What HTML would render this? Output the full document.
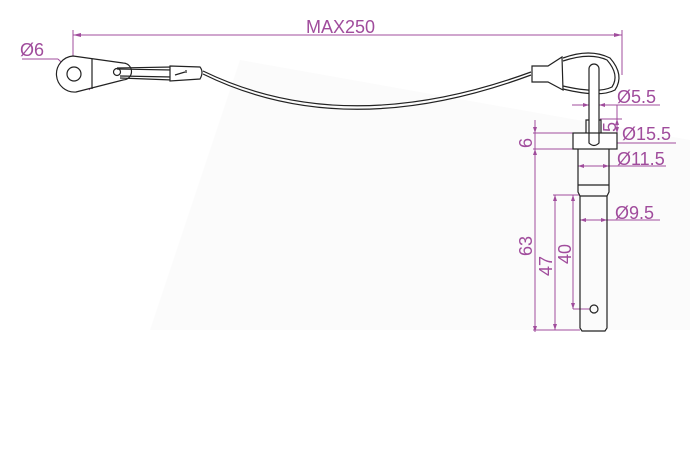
<!DOCTYPE html>
<html><head><style>
html,body{margin:0;padding:0;background:#fff;}
svg{display:block}
text{font-family:"Liberation Sans","DejaVu Sans",sans-serif;fill:#a04c9c;}
</style></head><body>
<svg width="700" height="462" viewBox="0 0 700 462" xmlns="http://www.w3.org/2000/svg">
<polygon points="150,330 240,60 690,140 690,330" fill="#fbfbfb"/>
<g stroke="#a04c9c" stroke-width="1" fill="none">
<line x1="73" y1="35" x2="622" y2="35"/>
<line x1="73" y1="30" x2="73" y2="78"/>
<line x1="622" y1="30" x2="622" y2="75"/>
<line x1="22" y1="59" x2="58" y2="59"/>
<line x1="58" y1="59" x2="90" y2="90"/>
<line x1="572" y1="105" x2="660" y2="105"/>
<line x1="589" y1="100" x2="589" y2="118"/>
<line x1="599" y1="100" x2="599" y2="118"/>
<line x1="600" y1="119" x2="622" y2="119"/>
<line x1="617" y1="105" x2="617" y2="133"/>
<line x1="573" y1="143" x2="676" y2="143"/>
<line x1="578" y1="166" x2="666" y2="166"/>
<line x1="533" y1="133" x2="573" y2="133"/>
<line x1="533" y1="149" x2="573" y2="149"/>
<line x1="535" y1="120" x2="535" y2="332"/>
<line x1="580" y1="220" x2="660" y2="220"/>
<line x1="553" y1="195" x2="580" y2="195"/>
<line x1="533" y1="330" x2="580" y2="330"/>
<line x1="573" y1="309" x2="590" y2="309"/>
<line x1="555" y1="195" x2="555" y2="330"/>
<line x1="573" y1="195" x2="573" y2="309"/>
</g>
<g fill="#a04c9c">
<path d="M73,35 l8,-2 v4z M622,35 l-8,-2 v4z"/>
<path d="M589,105 l-6,-2 v4z M599,105 l6,-2 v4z"/>
<path d="M617,119 l-2,6 h4z M617,133 l-2,-6 h4z"/>
<path d="M573,143 l6,-2 v4z M617,143 l-6,-2 v4z"/>
<path d="M578,166 l6,-2 v4z M609,166 l-6,-2 v4z"/>
<path d="M535,133 l-2,-6 h4z M535,149 l-2,6 h4z M535,332 l-2,-6 h4z"/>
<path d="M580,220 l6,-2 v4z M607,220 l-6,-2 v4z"/>
<path d="M555,195 l-2,6 h4z M555,330 l-2,-6 h4z M573,195 l-2,6 h4z M573,309 l-2,-6 h4z"/>
</g>
<g font-size="18">
<text x="306" y="33">MAX250</text>
<text x="20" y="56">Ø6</text>
<text x="617" y="103">Ø5.5</text>
<text x="622" y="140">Ø15.5</text>
<text x="617" y="165">Ø11.5</text>
<text x="615" y="219">Ø9.5</text>
<text transform="translate(532,148) rotate(-90)">6</text>
<text transform="translate(616,132) rotate(-90)">5</text>
<text transform="translate(532,256) rotate(-90)">63</text>
<text transform="translate(552,276) rotate(-90)">47</text>
<text transform="translate(571,264) rotate(-90)">40</text>
</g>
<g stroke="#222" stroke-width="1.2" fill="none">
<path d="M73,56 L123,63 A5,5 0 0 1 123,80 L76,92 A18,18 0 1 1 73,56 Z" fill="#fff"/>
<circle cx="74" cy="74" r="7"/>
<line x1="92" y1="59" x2="92" y2="89"/>
<circle cx="117" cy="72" r="3.5"/>
<path d="M117,68 L172,67 M120,78 L172,80 M117,69 L172,70 M120,76 L172,77"/>
<path d="M170,66 L200,67 Q204,72 200,79 L170,81 Z" fill="#fff"/>
<line x1="175" y1="75" x2="185" y2="72"/><line x1="186" y1="70" x2="186" y2="73"/>
<path d="M203,71 Q345,140 531,72"/>
<path d="M203,74 Q345,144 531,75"/>
<path d="M532,66 L548,66 L562,57 L563,90 L548,82 L532,82 Z" fill="#fff"/>
<path d="M563,58 Q590,48 610,58 Q625,75 615,90 Q600,98 563,89"/>
<path d="M563,61 Q590,52 607,60 Q620,75 612,87 Q598,94 563,86"/>
<rect x="589" y="64" width="10" height="82" rx="5" fill="#fff"/>
<path d="M586,133 V120 H589 M599,120 H601 V133"/>
<rect x="573" y="133" width="44" height="16" fill="#fff"/>
<path d="M589,133 V143 Q594,148 599,143 V133"/>
<path d="M578,149 V192 L580,196 H607 L609,192 V149"/>
<line x1="578" y1="185" x2="609" y2="185"/>
<path d="M580,196 V328 L582,331 H605 L607,328 V196"/>
<circle cx="594" cy="309" r="4"/>
</g>
</svg>
</body></html>
